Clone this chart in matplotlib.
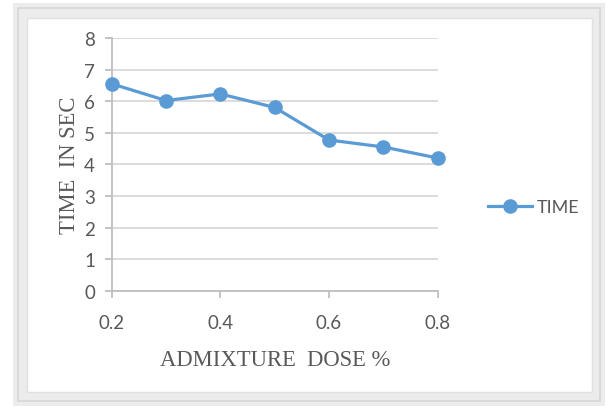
import matplotlib.pyplot as plt
from matplotlib.patches import Rectangle

# admixture dose vs setting time
dose = [0.2, 0.3, 0.4, 0.5, 0.6, 0.7, 0.8]
time_sec = [6.55, 6.02, 6.23, 5.8, 4.77, 4.55, 4.2]
x_ticks = [0.2, 0.4, 0.6, 0.8]
y_ticks = [0, 1, 2, 3, 4, 5, 6, 7, 8]

W, H = 609, 410
fig = plt.figure(figsize=(W / 100, H / 100), dpi=100)
fig.patch.set_facecolor('white')

# grey frame around the chart area
def px_rect(x0, y0, x1, y1, **kw):
    return Rectangle((x0 / W, 1 - y1 / H), (x1 - x0) / W, (y1 - y0) / H,
                     transform=fig.transFigure, zorder=-10, **kw)

fig.patches.append(px_rect(13, 4, 605, 407, facecolor='#ececec', edgecolor='none'))
fig.patches.append(px_rect(18, 9, 600, 402, facecolor='none', edgecolor='#d6d6d6', linewidth=1.2))
fig.patches.append(px_rect(27, 19, 592, 393, facecolor='white', edgecolor='#e0e0e0', linewidth=1))

ax = fig.add_axes([111.7 / W, 1 - 291.7 / H, (437.7 - 111.7) / W, (291.7 - 39) / H])
ax.set_facecolor('none')

ax.plot(dose, time_sec, color='#5b9bd5', linewidth=2.3, marker='o',
        markersize=9.5, label='TIME', zorder=3, clip_on=False)

ax.set_xlim(0.2, 0.8)
ax.set_ylim(0, 8)
ax.set_xticks(x_ticks)
ax.set_xticklabels(['0.2', '0.4', '0.6', '0.8'])
ax.set_yticks(y_ticks)

ax.grid(axis='y', color='#d9d9d9', linewidth=1.3)
ax.set_axisbelow(True)
for s in ['top', 'right']:
    ax.spines[s].set_visible(False)
for s in ['left', 'bottom']:
    ax.spines[s].set_color('#bfbfbf')
    ax.spines[s].set_linewidth(1.3)

ax.tick_params(axis='both', colors='#bfbfbf', length=5, width=1.3,
               labelcolor='#595959', labelsize=13.5)
ax.tick_params(axis='x', pad=12)
ax.tick_params(axis='y', pad=7)
for lbl in ax.get_xticklabels() + ax.get_yticklabels():
    lbl.set_family('Lato')

ax.set_xlabel('ADMIXTURE  DOSE %', family='Liberation Serif', fontsize=16.3,
              color='#595959', labelpad=13)
ax.set_ylabel('TIME  IN SEC', family='Liberation Serif', fontsize=16.3,
              color='#595959', labelpad=3)

leg = ax.legend(loc='center left', bbox_to_anchor=(1.105, 0.33), frameon=False,
                prop={'family': 'Lato', 'size': 13}, handlelength=2.4,
                handletextpad=0.3, labelcolor='#595959')

fig.savefig('out.png', dpi=100)
